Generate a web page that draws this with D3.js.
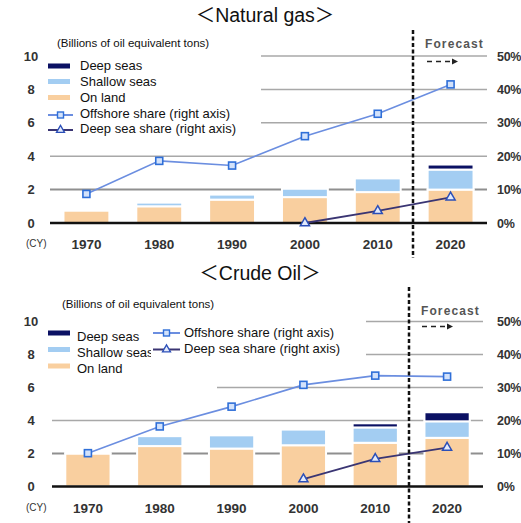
<!DOCTYPE html>
<html><head><meta charset="utf-8">
<script src="https://cdn.jsdelivr.net/npm/d3@7"></script>
<style>
body{margin:0;background:#fff;}
svg{display:block;font-family:"Liberation Sans",Arial,"Noto Sans CJK JP",sans-serif;}
</style></head><body>
<svg id="c" width="521" height="523"></svg>
<script>
// ---- data ----
const years = ["1970","1980","1990","2000","2010","2020"];
const gasLand = [0.75,1.0,1.4,1.55,1.85,2.0];
const gasShallow = [0.04,0.22,0.3,0.5,0.82,1.2];
const gasDeep = [0,0,0,0,0,0.3];
const gasOffshoreShare = [8.7,18.6,17.2,26.0,32.7,41.5];
const gasDeepShare = [null,null,null,0,3.6,7.7];
const oilLand = [2.0,2.45,2.3,2.5,2.65,2.95];
const oilShallow = [0.1,0.6,0.8,0.95,0.93,1.0];
const oilDeep = [0,0,0,0,0.25,0.55];
const oilOffshoreShare = [10.1,18.2,24.2,30.8,33.6,33.3];
const oilDeepShare = [null,null,null,2.2,8.4,11.8];
const leftTicks = [0,2,4,6,8,10];
const rightTicks = [0,10,20,30,40,50];
const seriesNames = ["Deep seas","Shallow seas","On land","Offshore share (right axis)","Deep sea share (right axis)"];
const titles = ["＜Natural  gas＞","＜Crude Oil＞"];
const unitLabel = "(Billions of oil equivalent tons)";

const C = {land:"#f9cf9f", shallow:"#a3cdf2", deep:"#0b1163",
  off:"#6b8ee0", offMk:"#2f6fd8", offFill:"#d3e2fb",
  dsh:"#3a3573", dshMk:"#2b4fb8", dshFill:"#e3eafb"};

const svg = d3.select("#c");

function panel(cfg){
  const g = svg.append("g");
  const x = d3.scaleBand().domain(years).range(cfg.xr).paddingInner(0.37).paddingOuter(0.185);
  const y = d3.scaleLinear().domain([0,10]).range([cfg.y0,cfg.y10]);
  const yr = d3.scaleLinear().domain([0,50]).range([cfg.y0,cfg.y10]);

  // title
  g.append("text").attr("x",cfg.titleX).attr("y",cfg.titleY).attr("text-anchor","middle")
    .attr("font-size",19.5).attr("fill","#111").attr("dominant-baseline","middle").text(cfg.title);
  // unit
  g.append("text").attr("x",cfg.unitX).attr("y",cfg.unitY).attr("font-size",11.5).attr("fill","#111")
    .attr("dominant-baseline","middle").text(unitLabel);

  // gridlines
  g.append("g").selectAll("line").data(leftTicks.filter(d=>d>0)).join("line")
    .attr("x1",cfg.xr[0]).attr("x2",cfg.xr[1]).attr("y1",d=>y(d)).attr("y2",d=>y(d))
    .attr("stroke",d=>d===2?"#8f8f8f":"#a8a8a8").attr("stroke-width",d=>d===2?2:1.5);

  // stacked bars
  const rows = years.map((yy,i)=>({year:yy, land:cfg.land[i], shallow:cfg.shallow[i], deep:cfg.deep[i]}));
  const stack = d3.stack().keys(["land","shallow","deep"])(rows);
  g.append("g").selectAll("g").data(stack).join("g").attr("fill",d=>C[d.key])
    .selectAll("rect").data(d=>d.filter(s=>s[1]-s[0]>0)).join("rect")
    .attr("x",d=>x(d.data.year)).attr("width",x.bandwidth())
    .attr("y",d=>y(d[1])).attr("height",d=>y(d[0])-y(d[1]))
    .attr("stroke","#fff").attr("stroke-width",2);

  // zero line
  g.append("line").attr("x1",cfg.xr[0]).attr("x2",cfg.xr[1]).attr("y1",y(0)).attr("y2",y(0))
    .attr("stroke","#111").attr("stroke-width",2.5);

  // legend background boxes
  cfg.boxes.forEach(b=>g.append("rect").attr("x",b[0]).attr("y",b[1]).attr("width",b[2]).attr("height",b[3]).attr("fill","#fff"));

  // axes
  const la = g.append("g").attr("transform",`translate(${cfg.leftX},0)`)
    .call(d3.axisLeft(y).tickValues(leftTicks).tickSize(0).tickPadding(0).tickFormat(d3.format("d")));
  la.selectAll("text").attr("text-anchor","middle").attr("x",0);
  const ra = g.append("g").attr("transform",`translate(${cfg.rightX},0)`)
    .call(d3.axisRight(yr).tickValues(rightTicks).tickSize(0).tickPadding(0).tickFormat(d=>d+"%"));
  ra.selectAll("text").attr("letter-spacing",-0.3);
  const ba = g.append("g").attr("transform",`translate(0,${cfg.y0})`)
    .call(d3.axisBottom(x).tickSize(0));
  ba.selectAll("text").attr("y",cfg.yearOff).attr("dy","0.35em");
  [la,ra,ba].forEach(a=>{a.select(".domain").remove();
    a.selectAll("text").attr("font-size",13).attr("font-weight","bold").attr("fill","#333")
     .attr("font-family","Liberation Sans, Arial, sans-serif");});
  ra.selectAll("text").attr("font-size",12.5);
  ba.selectAll("text").attr("font-size",13.5);
  g.append("text").attr("x",cfg.cyX).attr("y",cfg.cyY).attr("font-size",10).attr("fill","#333")
    .attr("dominant-baseline","middle").text("(CY)");

  // lines
  const cx = d=>x(d.year)+x.bandwidth()/2;
  const offPts = years.map((yy,i)=>({year:yy,v:cfg.off[i]})).filter(d=>d.v!==null);
  const dshPts = years.map((yy,i)=>({year:yy,v:cfg.dsh[i]})).filter(d=>d.v!==null);
  const line = d3.line().x(cx).y(d=>yr(d.v));
  g.append("path").attr("d",line(offPts)).attr("fill","none").attr("stroke",C.off).attr("stroke-width",1.6);
  g.append("path").attr("d",line(dshPts)).attr("fill","none").attr("stroke",C.dsh).attr("stroke-width",1.8);
  g.append("g").selectAll("rect").data(offPts).join("rect")
    .attr("x",d=>cx(d)-3.5).attr("y",d=>yr(d.v)-3.5).attr("width",7).attr("height",7)
    .attr("fill",C.offFill).attr("stroke",C.offMk).attr("stroke-width",1.6);
  const tri = d3.symbol().type(d3.symbolTriangle).size(36);
  g.append("g").selectAll("path").data(dshPts).join("path")
    .attr("transform",d=>`translate(${cx(d)},${yr(d.v)})`).attr("d",tri)
    .attr("fill",C.dshFill).attr("stroke",C.dshMk).attr("stroke-width",1.5);

  // forecast divider
  g.append("line").attr("x1",cfg.fx).attr("x2",cfg.fx).attr("y1",cfg.fy1).attr("y2",cfg.fy2)
    .attr("stroke","#111").attr("stroke-width",2.5).attr("stroke-dasharray","4,2.5");
  g.append("text").attr("x",cfg.ftx).attr("y",cfg.fty).attr("font-size",12).attr("font-weight","bold")
    .attr("fill","#555").attr("letter-spacing",1.1).attr("dominant-baseline","middle").text("Forecast");
  g.append("line").attr("x1",cfg.ax1).attr("x2",cfg.ax2-5).attr("y1",cfg.ay).attr("y2",cfg.ay)
    .attr("stroke","#222").attr("stroke-width",1.5).attr("stroke-dasharray","5,4");
  g.append("path").attr("d",`M${cfg.ax2-6},${cfg.ay-3}L${cfg.ax2},${cfg.ay}L${cfg.ax2-6},${cfg.ay+3}Z`).attr("fill","#222");

  // legend
  const L = cfg.legend;
  const swatchColors = [C.deep,C.shallow,C.land];
  L.rects.forEach((r,i)=>{
    g.append("rect").attr("x",r.sx).attr("y",r.sy-2.5).attr("width",r.sw).attr("height",5).attr("fill",swatchColors[i]);
    g.append("text").attr("x",r.tx).attr("y",r.ty).attr("font-size",13).attr("fill","#111")
      .attr("dominant-baseline","middle").text(seriesNames[i]);
  });
  if (L.box2) g.append("rect").attr("x",L.box2[0]).attr("y",L.box2[1]).attr("width",L.box2[2]).attr("height",L.box2[3]).attr("fill","#fff");
  L.lines.forEach((r,i)=>{
    const isOff = i===0;
    g.append("line").attr("x1",r.sx).attr("x2",r.sx+r.sw).attr("y1",r.sy).attr("y2",r.sy)
      .attr("stroke",isOff?C.off:C.dsh).attr("stroke-width",2);
    const mx = r.sx+r.sw/2;
    if (isOff) g.append("rect").attr("x",mx-3).attr("y",r.sy-3).attr("width",6).attr("height",6)
      .attr("fill",C.offFill).attr("stroke",C.offMk).attr("stroke-width",1.4);
    else g.append("path").attr("transform",`translate(${mx},${r.sy})`).attr("d",d3.symbol().type(d3.symbolTriangle).size(28))
      .attr("fill",C.dshFill).attr("stroke",C.dshMk).attr("stroke-width",1.3);
    g.append("text").attr("x",r.tx).attr("y",r.ty).attr("font-size",13).attr("fill","#111")
      .attr("dominant-baseline","middle").text(seriesNames[3+i]);
  });
}

panel({
  title:titles[0], titleX:265, titleY:17, unitX:57, unitY:43.5,
  xr:[50,487], y0:223, y10:56, leftX:31, rightX:497, yearOff:21.5, cyX:26, cyY:244,
  land:gasLand, shallow:gasShallow, deep:gasDeep, off:gasOffshoreShare, dsh:gasDeepShare,
  boxes:[[45,50,216,86]],
  fx:413, fy1:30, fy2:258, ftx:425, fty:45, ax1:427, ax2:458, ay:61.5,
  legend:{
    rects:[{sx:48,sy:66,sw:22,tx:80,ty:66.5},{sx:48,sy:81.5,sw:22,tx:80,ty:82.5},{sx:48,sy:97.5,sw:22,tx:80,ty:98.5}],
    lines:[{sx:48,sy:115,sw:25,tx:80,ty:115},{sx:48,sy:130,sw:25,tx:80,ty:130}]
  }
});

panel({
  title:titles[1], titleX:260, titleY:275, unitX:62, unitY:305,
  xr:[52,483], y0:486.5, y10:321.5, leftX:31, rightX:497, yearOff:22, cyX:26, cyY:508,
  land:oilLand, shallow:oilShallow, deep:oilDeep, off:oilOffshoreShare, dsh:oilDeepShare,
  boxes:[[45,316,172,82],[150,316,216,48]],
  fx:409, fy1:287, fy2:523, ftx:421, fty:311.5, ax1:422, ax2:453, ay:326.5,
  legend:{
    rects:[{sx:48,sy:333,sw:22,tx:77,ty:337.5},{sx:48,sy:349.5,sw:22,tx:77,ty:353.5},{sx:48,sy:366,sw:22,tx:77,ty:369.5}],
    box2:[151,322,40,40],
    lines:[{sx:153,sy:333,sw:27,tx:184,ty:334},{sx:153,sy:349.5,sw:27,tx:184,ty:350}]
  }
});
</script>
</body></html>
